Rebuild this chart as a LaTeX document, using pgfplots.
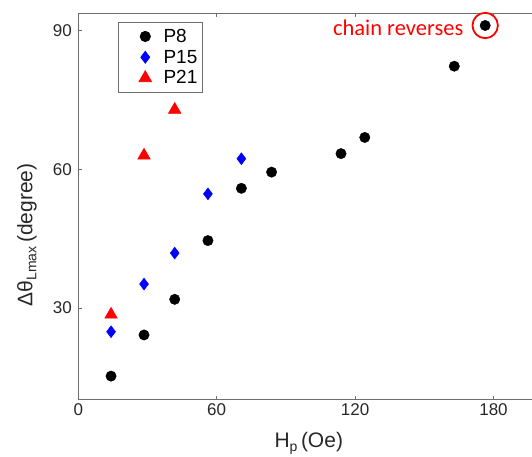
\documentclass[border=0pt]{standalone}
\usepackage{pgfplots}
\pgfplotsset{compat=1.18}
\usepackage{fontspec}
\setmainfont{Liberation Sans}
\newfontfamily\calib{Carlito}
\definecolor{spine}{RGB}{110,110,110}
\definecolor{txt}{RGB}{40,40,40}
\definecolor{pblue}{RGB}{0,0,255}
\definecolor{pred}{RGB}{255,0,0}

\begin{document}
\begin{tikzpicture}
\useasboundingbox (-78.3pt,-57.3pt) rectangle (453.7pt,399.7pt);
\begin{axis}[scale only axis,width=453.7pt,height=386.7pt,
 xmin=0,xmax=196.7,ymin=10.2,ymax=93.8,
 axis x line=box, axis y line=left, axis line style={-,spine,line width=0.9pt},
 tick align=inside, major tick length=4pt, tick style={spine,line width=0.8pt},
 xtick={0,60,120,180}, ytick={30,60,90},
 /pgf/number format/assume math mode=true,
 ticklabel style={font=\fontsize{17}{17}\selectfont,text=txt},
 yticklabel style={xshift=-3pt},
 xlabel={H\raisebox{-0.35ex}{\fontsize{14}{14}\selectfont p}\,(Oe)},
 ylabel={Δθ\raisebox{-0.35ex}{\fontsize{14}{14}\selectfont Lmax}\,(degree)},
 label style={font=\fontsize{21}{21}\selectfont,text=txt},
 xlabel style={at={(axis description cs:0.508,-0.112)},anchor=center},
 ylabel style={at={(axis description cs:-0.113,0.426)},anchor=center},
 legend style={at={(axis description cs:0.0880,0.9775)},anchor=north west,
   draw=spine,line width=0.7pt,font=\fontsize{19}{19}\selectfont,
   row sep=0pt,column sep=0pt,inner xsep=4.5pt,inner ysep=4pt,
   nodes={inner sep=0pt,anchor=west}},
 legend image code/.code={\path[draw=none,fill=none] (-22.2pt,-10.4pt) rectangle (18.3pt,10.4pt);
   \draw[#1] plot coordinates {(0pt,0pt)};},
 legend cell align=left,
 clip=false]
\addplot[only marks,mark=*,mark size=5.2pt,black] coordinates {
 (14.2,15.3)(28.5,24.2)(41.8,31.9)(56.2,44.6)(70.7,55.9)
 (83.8,59.4)(113.9,63.4)(124.2,66.9)(163.0,82.3)(176.4,91.1)};
\addlegendentry{P8}
\addplot[only marks,mark=diamond*,mark size=6pt,pblue] coordinates {
 (14.2,24.9)(28.5,35.2)(41.8,41.9)(56.2,54.7)(70.7,62.3)};
\addlegendentry{P15}
\addplot[only marks,mark=triangle*,mark size=7.3pt,pred] coordinates {
 (14.2,28.6)(28.5,63.0)(41.8,72.9)};
\addlegendentry{P21}
\draw[pred,line width=1.8pt] (axis cs:176.4,91.1) circle[radius=12.7pt];
\node[anchor=base east,text=pred,font=\calib\fontsize{22.5}{22.5}\selectfont,inner sep=0pt]
 at (axis cs:167.0,89.0) {chain reverses};
\end{axis}
\end{tikzpicture}
\end{document}
